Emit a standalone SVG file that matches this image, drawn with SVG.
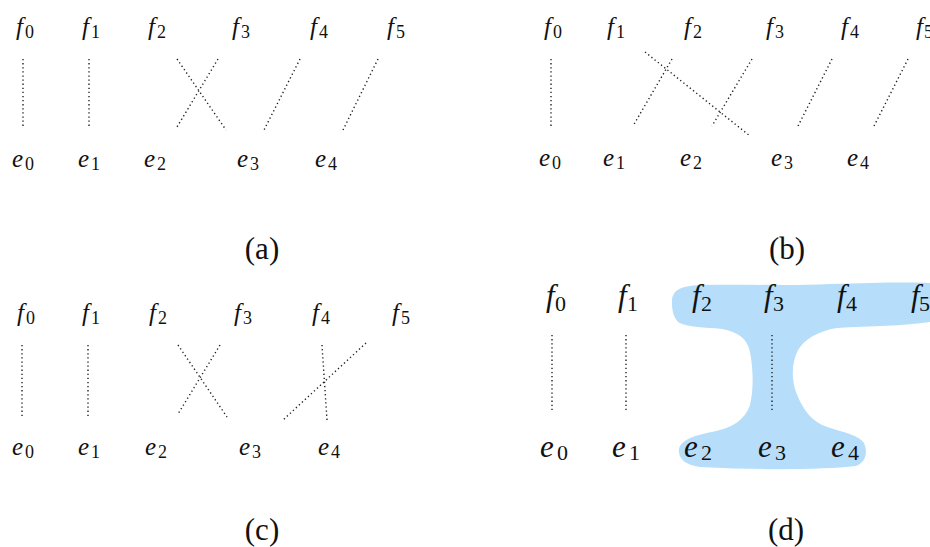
<svg xmlns="http://www.w3.org/2000/svg" width="930" height="547" viewBox="0 0 930 547">
<style>
.m{font-family:"Liberation Serif","Times New Roman",serif;font-style:italic;font-size:25px;fill:#111}
.s{font-style:normal;font-size:18px}
.md{font-family:"Liberation Serif","Times New Roman",serif;font-style:italic;font-size:31px;fill:#111}
.sd{font-style:normal;font-size:22px}
.cap{font-family:"Liberation Serif","Times New Roman",serif;font-size:31px;fill:#111;text-anchor:middle}
.dot{stroke:#222;stroke-width:1.4;stroke-dasharray:1.3 2.8;fill:none}
.blob{fill:#b6defa}
</style>
<defs>
<filter id="soft" x="-5%" y="-5%" width="110%" height="110%"><feGaussianBlur stdDeviation="0.7"/></filter>
</defs>
<rect width="930" height="547" fill="#fff"/>

<!-- panel (d) highlight -->
<path class="blob" filter="url(#soft)" d="M672,302 C672,290 680,286 700,285 C740,284 790,286 830,284 C870,283 905,282 930,283 L930,322 C905,326 870,326 837,328 C818,331 805,339 798,350 C792,362 791,378 796,392 C801,405 808,418 822,425 C840,432 858,434 864,443 C868,452 866,462 856,466 C820,470 760,470 700,467 C684,465 678,458 679,449 C681,440 695,435 712,432 C732,428 745,420 750,405 C754,388 753,368 750,352 C747,338 738,332 722,329 C705,327 688,328 678,322 C673,316 672,310 672,302 Z"/>

<g id="connectors">
  <g id="conn-a">
    <line class="dot" x1="23" y1="59" x2="23" y2="126"/>
    <line class="dot" x1="89" y1="59" x2="89" y2="126"/>
    <line class="dot" x1="177" y1="59" x2="226" y2="130"/>
    <line class="dot" x1="218" y1="59" x2="177" y2="127"/>
    <line class="dot" x1="300" y1="59" x2="264" y2="130"/>
    <line class="dot" x1="378" y1="59" x2="343" y2="130"/>
  </g>
  <g id="conn-b">
    <line class="dot" x1="551" y1="59" x2="551" y2="128"/>
    <line class="dot" x1="672" y1="59" x2="633" y2="126"/>
    <line class="dot" x1="645" y1="52" x2="750" y2="136"/>
    <line class="dot" x1="752" y1="59" x2="712" y2="126"/>
    <line class="dot" x1="832" y1="59" x2="797" y2="128"/>
    <line class="dot" x1="908" y1="59" x2="873" y2="128"/>
  </g>
  <g id="conn-c">
    <line class="dot" x1="22" y1="345" x2="22" y2="417"/>
    <line class="dot" x1="88" y1="345" x2="88" y2="417"/>
    <line class="dot" x1="178" y1="345" x2="227" y2="417"/>
    <line class="dot" x1="220" y1="345" x2="178" y2="414"/>
    <line class="dot" x1="322" y1="345" x2="327" y2="420"/>
    <line class="dot" x1="366" y1="343" x2="283" y2="420"/>
  </g>
  <g id="conn-d">
    <line class="dot" x1="552" y1="335" x2="552" y2="412"/>
    <line class="dot" x1="626" y1="335" x2="626" y2="412"/>
    <line class="dot" x1="772" y1="335" x2="772" y2="412"/>
  </g>
</g>

<!-- panel (a) -->
<g id="a-f0"><text class="m" x="16" y="35">f<tspan class="s" x="25" y="38">0</tspan></text></g>
<g id="a-f1"><text class="m" x="82" y="35">f<tspan class="s" x="91" y="38">1</tspan></text></g>
<g id="a-f2"><text class="m" x="148" y="35">f<tspan class="s" x="157" y="38">2</tspan></text></g>
<g id="a-f3"><text class="m" x="232" y="35">f<tspan class="s" x="241" y="38">3</tspan></text></g>
<g id="a-f4"><text class="m" x="310" y="35">f<tspan class="s" x="319" y="38">4</tspan></text></g>
<g id="a-f5"><text class="m" x="387" y="35">f<tspan class="s" x="396" y="38">5</tspan></text></g>
<g id="a-e0"><text class="m" x="12" y="167">e<tspan class="s" x="25" y="170">0</tspan></text></g>
<g id="a-e1"><text class="m" x="78" y="167">e<tspan class="s" x="91" y="170">1</tspan></text></g>
<g id="a-e2"><text class="m" x="144" y="167">e<tspan class="s" x="157" y="170">2</tspan></text></g>
<g id="a-e3"><text class="m" x="237" y="167">e<tspan class="s" x="250" y="170">3</tspan></text></g>
<g id="a-e4"><text class="m" x="315" y="167">e<tspan class="s" x="328" y="170">4</tspan></text></g>
<g id="cap-a"><text class="cap" x="262" y="259">(a)</text></g>

<!-- panel (b) -->
<g id="b-f0"><text class="m" x="544" y="35">f<tspan class="s" x="553" y="38">0</tspan></text></g>
<g id="b-f1"><text class="m" x="607" y="35">f<tspan class="s" x="616" y="38">1</tspan></text></g>
<g id="b-f2"><text class="m" x="684" y="35">f<tspan class="s" x="693" y="38">2</tspan></text></g>
<g id="b-f3"><text class="m" x="766" y="35">f<tspan class="s" x="775" y="38">3</tspan></text></g>
<g id="b-f4"><text class="m" x="841" y="35">f<tspan class="s" x="850" y="38">4</tspan></text></g>
<g id="b-f5"><text class="m" x="916" y="35">f<tspan class="s" x="924" y="38">5</tspan></text></g>
<g id="b-e0"><text class="m" x="539" y="166">e<tspan class="s" x="552" y="169">0</tspan></text></g>
<g id="b-e1"><text class="m" x="603" y="166">e<tspan class="s" x="616" y="169">1</tspan></text></g>
<g id="b-e2"><text class="m" x="680" y="166">e<tspan class="s" x="693" y="169">2</tspan></text></g>
<g id="b-e3"><text class="m" x="771" y="166">e<tspan class="s" x="784" y="169">3</tspan></text></g>
<g id="b-e4"><text class="m" x="847" y="166">e<tspan class="s" x="860" y="169">4</tspan></text></g>
<g id="cap-b"><text class="cap" x="787" y="259">(b)</text></g>

<!-- panel (c) -->
<g id="c-f0"><text class="m" x="17" y="321">f<tspan class="s" x="26" y="324">0</tspan></text></g>
<g id="c-f1"><text class="m" x="82" y="321">f<tspan class="s" x="91" y="324">1</tspan></text></g>
<g id="c-f2"><text class="m" x="149" y="321">f<tspan class="s" x="158" y="324">2</tspan></text></g>
<g id="c-f3"><text class="m" x="234" y="321">f<tspan class="s" x="243" y="324">3</tspan></text></g>
<g id="c-f4"><text class="m" x="312" y="321">f<tspan class="s" x="321" y="324">4</tspan></text></g>
<g id="c-f5"><text class="m" x="392" y="321">f<tspan class="s" x="401" y="324">5</tspan></text></g>
<g id="c-e0"><text class="m" x="12" y="455">e<tspan class="s" x="25" y="458">0</tspan></text></g>
<g id="c-e1"><text class="m" x="78" y="455">e<tspan class="s" x="91" y="458">1</tspan></text></g>
<g id="c-e2"><text class="m" x="145" y="455">e<tspan class="s" x="158" y="458">2</tspan></text></g>
<g id="c-e3"><text class="m" x="239" y="455">e<tspan class="s" x="252" y="458">3</tspan></text></g>
<g id="c-e4"><text class="m" x="318" y="455">e<tspan class="s" x="331" y="458">4</tspan></text></g>
<g id="cap-c"><text class="cap" x="262" y="540">(c)</text></g>

<!-- panel (d) -->
<g id="d-f0"><text class="md" x="546" y="306">f<tspan class="sd" x="555" y="311">0</tspan></text></g>
<g id="d-f1"><text class="md" x="618" y="306">f<tspan class="sd" x="627" y="311">1</tspan></text></g>
<g id="d-f2"><text class="md" x="692" y="306">f<tspan class="sd" x="701" y="311">2</tspan></text></g>
<g id="d-f3"><text class="md" x="764" y="306">f<tspan class="sd" x="773" y="311">3</tspan></text></g>
<g id="d-f4"><text class="md" x="837" y="306">f<tspan class="sd" x="846" y="311">4</tspan></text></g>
<g id="d-f5"><text class="md" x="911" y="306">f<tspan class="sd" x="919" y="311">5</tspan></text></g>
<g id="d-e0"><text class="md" x="540" y="457">e<tspan class="sd" x="557" y="460">0</tspan></text></g>
<g id="d-e1"><text class="md" x="612" y="457">e<tspan class="sd" x="629" y="460">1</tspan></text></g>
<g id="d-e2"><text class="md" x="684" y="457">e<tspan class="sd" x="701" y="460">2</tspan></text></g>
<g id="d-e3"><text class="md" x="758" y="457">e<tspan class="sd" x="775" y="460">3</tspan></text></g>
<g id="d-e4"><text class="md" x="831" y="457">e<tspan class="sd" x="848" y="460">4</tspan></text></g>
<g id="cap-d"><text class="cap" x="786" y="540">(d)</text></g>
</svg>
